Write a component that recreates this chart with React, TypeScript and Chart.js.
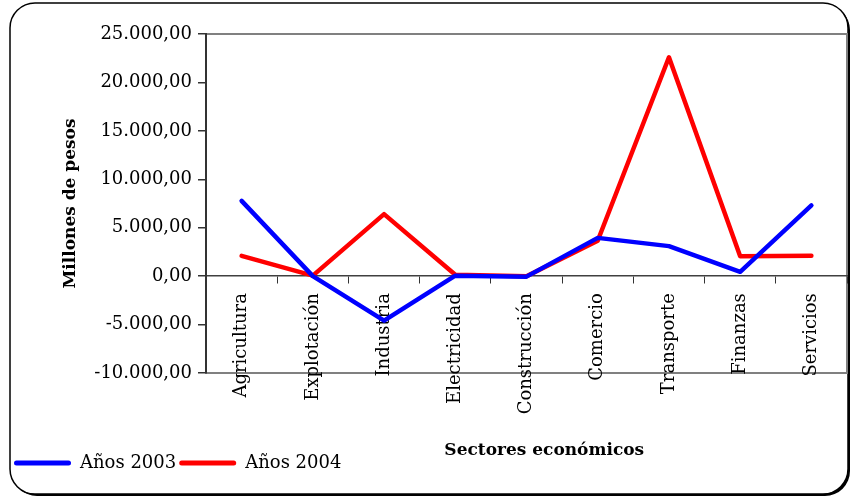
import React, { useEffect, useRef } from 'react';
import { Chart, registerables } from 'chart.js';

Chart.register(...registerables);

const categories = ['Agricultura', 'Explotación', 'Industria', 'Electricidad', 'Construcción', 'Comercio', 'Transporte', 'Finanzas', 'Servicios'];
const years2003 = [7770, 0, -4600, 50, -50, 3950, 3100, 450, 7300];
const years2004 = [2100, 50, 6400, 150, 0, 3650, 22600, 2050, 2100];
const seriesLabels = ['Años 2003', 'Años 2004'];
const seriesColors = ['#0000FF', '#FF0000'];
const yMin = -10000;
const yMax = 25000;
const yStep = 5000;
const yTitle = 'Millones de pesos';
const xTitle = 'Sectores económicos';

const FONT = 'DejaVu Serif';
const NB = '\u00a0';

function fmt(v: number): string {
  const neg = v < 0;
  const a = Math.abs(Math.round(v));
  const s = String(a).replace(/\B(?=(\d{3})+(?!\d))/g, '.');
  return (neg ? '-' : '') + s + ',00';
}

function roundRectPath(ctx: CanvasRenderingContext2D, x: number, y: number, w: number, h: number, r: number) {
  ctx.beginPath();
  ctx.moveTo(x + r, y);
  ctx.lineTo(x + w - r, y);
  ctx.arcTo(x + w, y, x + w, y + r, r);
  ctx.lineTo(x + w, y + h - r);
  ctx.arcTo(x + w, y + h, x + w - r, y + h, r);
  ctx.lineTo(x + r, y + h);
  ctx.arcTo(x, y + h, x, y + h - r, r);
  ctx.lineTo(x, y + r);
  ctx.arcTo(x, y, x + r, y, r);
  ctx.closePath();
}

const framePlugin = {
  id: 'framePlugin',
  beforeDraw(chart: any) {
    const { ctx, chartArea } = chart;
    ctx.save();
    ctx.fillStyle = '#ffffff';
    ctx.fillRect(0, 0, chart.width, chart.height);
    roundRectPath(ctx, 12, 5, 838, 491, 25);
    ctx.fillStyle = '#000000';
    ctx.fill();
    roundRectPath(ctx, 10, 3, 838, 491, 25);
    ctx.fillStyle = '#ffffff';
    ctx.fill();
    ctx.lineWidth = 1.5;
    ctx.strokeStyle = '#000000';
    ctx.stroke();
    ctx.strokeStyle = '#808080';
    ctx.lineWidth = 2;
    ctx.strokeRect(chartArea.left, chartArea.top, chartArea.right - chartArea.left, chartArea.bottom - chartArea.top);
    ctx.restore();
  },
};

export default function App() {
  const ref = useRef<HTMLCanvasElement>(null);

  useEffect(() => {
    if (!ref.current) return;
    const chart = new Chart(ref.current, {
      type: 'line',
      data: {
        labels: categories,
        datasets: [
          {
            label: seriesLabels[0],
            data: years2003,
            borderColor: seriesColors[0],
            backgroundColor: seriesColors[0],
            borderWidth: 4.5,
            pointRadius: 0,
            pointHoverRadius: 0,
            tension: 0,
            borderCapStyle: 'round',
            borderJoinStyle: 'round',
            xAxisID: 'x',
            yAxisID: 'y',
          },
          {
            label: seriesLabels[1],
            data: years2004,
            borderColor: seriesColors[1],
            backgroundColor: seriesColors[1],
            borderWidth: 4.5,
            pointRadius: 0,
            pointHoverRadius: 0,
            tension: 0,
            borderCapStyle: 'round',
            borderJoinStyle: 'round',
            xAxisID: 'x',
            yAxisID: 'y',
          },
        ],
      },
      options: {
        responsive: false,
        animation: false,
        devicePixelRatio: 1,
        layout: { padding: { left: 11, right: 3, top: 34, bottom: 15 } },
        plugins: {
          tooltip: { enabled: false },
          legend: {
            position: 'bottom',
            align: 'start',
            labels: {
              boxWidth: 57,
              boxHeight: 5,
              padding: 3,
              color: '#000',
              font: { family: FONT, size: 18 },
              useBorderRadius: true,
              borderRadius: 2.5,
              generateLabels: (c: any) =>
                c.data.datasets.map((ds: any, i: number) => ({
                  text: ds.label,
                  fillStyle: ds.borderColor,
                  strokeStyle: ds.borderColor,
                  lineWidth: 0,
                  hidden: false,
                  datasetIndex: i,
                  borderRadius: 2.5,
                  fontColor: '#000',
                })),
            },
          },
        },
        scales: {
          x: {
            type: 'category',
            position: { y: 0 } as any,
            offset: true,
            grid: { display: true, drawOnChartArea: false, drawTicks: true, tickLength: 7, offset: true, color: '#333', lineWidth: 1 },
            border: { display: true, color: '#404040', width: 1.5 },
            ticks: {
              minRotation: 90,
              maxRotation: 90,
              autoSkip: false,
              padding: 10,
              color: '#000',
              font: { family: FONT, size: 18 },
            },
            title: {
              display: true,
              text: NB.repeat(6) + xTitle,
              color: '#000',
              font: { family: FONT, size: 17, weight: 'bold' },
              padding: 0,
            },
            afterFit: (s: any) => {
              s.height = 185;
            },
          },
          x2: {
            type: 'category',
            position: 'bottom',
            display: true,
            grid: { display: false },
            border: { display: false },
            ticks: { display: false },
            afterFit: (s: any) => {
              s.height = 78;
            },
          },
          y: {
            type: 'linear',
            min: yMin,
            max: yMax,
            ticks: {
              stepSize: yStep,
              callback: (v: any) => fmt(Number(v)),
              padding: 6,
              color: '#000',
              font: { family: FONT, size: 18 },
            },
            grid: { display: true, drawOnChartArea: false, drawTicks: true, tickLength: 8, color: '#333', lineWidth: 1.5 },
            border: { display: true, color: '#333', width: 2 },
            title: {
              display: true,
              text: yTitle,
              color: '#000',
              font: { family: FONT, size: 17, weight: 'bold' },
              padding: { top: 49, bottom: 0 },
            },
            afterFit: (s: any) => {
              s.width = 195;
            },
          },
        },
      },
      plugins: [framePlugin],
    } as any);
    return () => chart.destroy();
  }, []);

  return (
    <div style={{ position: 'absolute', left: 0, top: 0, width: 850, height: 497 }}>
      <canvas ref={ref} width={850} height={497} style={{ display: 'block' }} />
    </div>
  );
}
